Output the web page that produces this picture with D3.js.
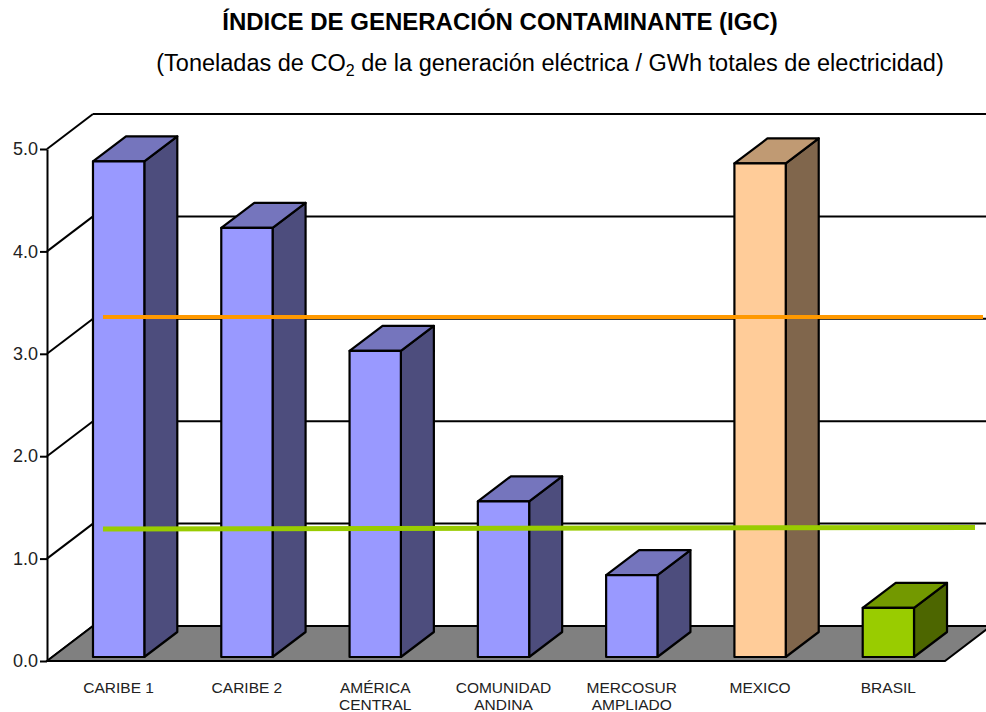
<!DOCTYPE html>
<html>
<head>
<meta charset="utf-8">
<script src="https://cdn.jsdelivr.net/npm/d3@7"></script>
<style>
  body { margin: 0; background: #fff; }
  svg { display: block; font-family: "Liberation Sans", Arial, sans-serif; }
</style>
</head>
<body>
<svg id="chart" width="986" height="712"></svg>
<script>
// data
const categories = ["CARIBE 1", "CARIBE 2", "AMÉRICA\nCENTRAL", "COMUNIDAD\nANDINA", "MERCOSUR\nAMPLIADO", "MEXICO", "BRASIL"];
const igcValues = [4.84, 4.19, 2.99, 1.52, 0.80, 4.82, 0.48];
const barGroup = ["region", "region", "region", "region", "region", "mexico", "brasil"];
const mexicoRef = [3.32, 3.32];   // orange line
const brasilRef = [1.25, 1.265];  // green line
const yTicks = [0, 1, 2, 3, 4, 5];

const palette = {
    region: { front: "#9999FF", top: "#7575BD", side: "#4D4D7D" },
    mexico: { front: "#FFCC99", top: "#C09A73", side: "#80664C" },
    brasil: { front: "#99CC00", top: "#739900", side: "#4D6600" }
};

const svg = d3.select("#chart");

// geometry
const floorLeft = 47, floorRight = 945, floorFront = 661;
const wall = { dx: 46, dy: -35 };       // full depth of the floor
const barOff = { dx: 5, dy: -4 };       // bar front plane
const barDepth = { dx: 33, dy: -25 };

const yAxisScale = d3.scaleLinear().domain([0, 5]).range([floorFront, floorFront - 512]);
const yWall = d3.scaleLinear().domain([0, 5]).range([floorFront + wall.dy, floorFront + wall.dy - 512]);
const yBar = d3.scaleLinear().domain([0, 5]).range([floorFront + barOff.dy, floorFront + barOff.dy - 512]);

const x = d3.scaleBand()
    .domain(categories)
    .range([floorLeft + 2.5 + barOff.dx, floorRight + 2.5 + barOff.dx])
    .paddingInner(0.6)
    .paddingOuter(0.3);

// titles
svg.append("text")
    .attr("x", 500).attr("y", 30)
    .attr("text-anchor", "middle")
    .style("font-size", "24px").style("font-weight", "bold")
    .text("ÍNDICE DE GENERACIÓN CONTAMINANTE (IGC)");

const sub = svg.append("text")
    .attr("x", 550).attr("y", 71)
    .attr("text-anchor", "middle")
    .style("font-size", "23.5px");
sub.append("tspan").text("(Toneladas de CO");
sub.append("tspan").attr("dy", 5).style("font-size", "16px").text("2");
sub.append("tspan").attr("dy", -5).text(" de la generación eléctrica / GWh totales de electricidad)");

// back wall gridlines + side wall diagonals
const grid = svg.append("g").attr("stroke", "#000").attr("stroke-width", 2).attr("fill", "none");
yTicks.forEach(t => {
    grid.append("line")
        .attr("x1", floorLeft + wall.dx).attr("x2", 1000)
        .attr("y1", yWall(t)).attr("y2", yWall(t));
    grid.append("line")
        .attr("x1", floorLeft).attr("y1", yAxisScale(t))
        .attr("x2", floorLeft + wall.dx).attr("y2", yWall(t));
});

// floor
svg.append("path")
    .attr("d", `M${floorLeft},${floorFront} L${floorLeft + wall.dx},${floorFront + wall.dy} L${floorRight + wall.dx},${floorFront + wall.dy} L${floorRight},${floorFront} Z`)
    .attr("fill", "#808080")
    .attr("stroke", "#000").attr("stroke-width", 2);

// bars
const bars = svg.append("g").attr("stroke", "#000").attr("stroke-width", 2.2).attr("stroke-linejoin", "round");
categories.forEach((c, i) => {
    const col = palette[barGroup[i]];
    const x0 = x(c), x1 = x(c) + x.bandwidth();
    const yb = yBar(0), yt = yBar(igcValues[i]);
    const g = bars.append("g");
    g.append("path")
        .attr("d", `M${x1},${yb} L${x1 + barDepth.dx},${yb + barDepth.dy} L${x1 + barDepth.dx},${yt + barDepth.dy} L${x1},${yt} Z`)
        .attr("fill", col.side);
    g.append("path")
        .attr("d", `M${x0},${yt} L${x0 + barDepth.dx},${yt + barDepth.dy} L${x1 + barDepth.dx},${yt + barDepth.dy} L${x1},${yt} Z`)
        .attr("fill", col.top);
    g.append("rect")
        .attr("x", x0).attr("y", yt)
        .attr("width", x.bandwidth()).attr("height", yb - yt)
        .attr("fill", col.front);
});

// reference lines
const refLine = (vals, x0, x1) => d3.line()
    .x((d, i) => i === 0 ? x0 : x1)
    .y(d => yBar(d))(vals);

const first = x(categories[0]);
svg.append("path")
    .attr("d", refLine(mexicoRef, first + 10, 983))
    .attr("stroke", "#FF9900").attr("stroke-width", 4).attr("fill", "none");
svg.append("path")
    .attr("d", refLine(brasilRef, first + 10, 975))
    .attr("stroke", "#99CC00").attr("stroke-width", 5).attr("fill", "none");

// y axis
const yAxis = d3.axisLeft(yAxisScale)
    .tickValues(yTicks)
    .tickFormat(d3.format(".1f"))
    .tickSize(7)
    .tickSizeOuter(0);

const ax = svg.append("g")
    .attr("transform", `translate(${floorLeft},0)`)
    .call(yAxis);
ax.select(".domain").attr("stroke", "#000").attr("stroke-width", 2);
ax.selectAll(".tick line").attr("stroke", "#000").attr("stroke-width", 2);
ax.selectAll(".tick text")
    .attr("x", -9)
    .style("font-family", "'Liberation Sans', Arial, sans-serif")
    .style("font-size", "18px")
    .attr("fill", "#222");

// x labels
const labels = svg.append("g")
    .style("font-size", "15.5px")
    .attr("fill", "#222")
    .attr("text-anchor", "middle");
categories.forEach(c => {
    const t = labels.append("text")
        .attr("x", x(c) + x.bandwidth() / 2)
        .attr("y", 693);
    c.split("\n").forEach((line, j) => {
        t.append("tspan")
            .attr("x", x(c) + x.bandwidth() / 2)
            .attr("dy", j === 0 ? 0 : 17)
            .text(line);
    });
});
</script>
</body>
</html>
